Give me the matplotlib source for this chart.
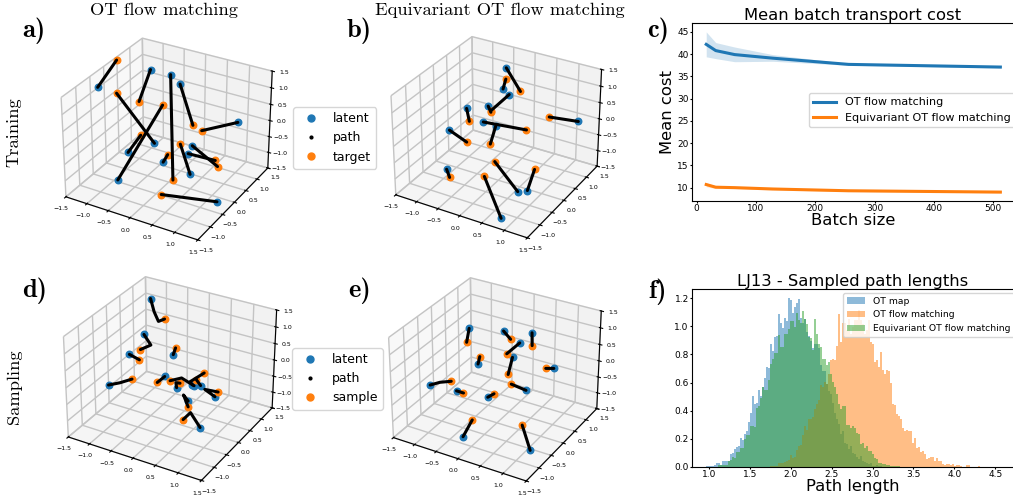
import numpy as np
import matplotlib
matplotlib.use('Agg')
import matplotlib.pyplot as plt
from matplotlib.lines import Line2D

W, H = 1013, 499

# ---- 3D panels: every list is one point per path, (x, y, z)
a_latent = [(-1.27, -0.58, 1.31), (-0.99, 0.97, 1.01), (-0.55, 1.03, 0.97), (-0.22, 0.84, 0.91), (1.03, 0.99, 0.1),
            (-0.2, -0.22, -0.21), (-0.61, -0.56, -0.42), (-0.59, -0.99, -0.96), (0.15, -0.48, -0.47),
            (0.72, -0.41, -0.66), (0.43, 0.03, -0.45), (0.41, 0.23, -0.35), (1.31, -0.38, -1.28)]
a_target = [(-1.45, 0.41, 1.47), (-0.73, 0.08, 0.67), (0.51, -0.72, -0.7), (0.37, 0.32, 0.2), (0.5, 0.45, 0.0),
            (-1.04, -0.26, 1.02), (-0.42, -0.38, 0.06), (-0.42, 0.48, 0.42), (0.19, -0.37, -0.3),
            (0.25, 0.03, -0.23), (0.83, 0.43, -0.78), (0.9, 0.4, -0.92), (0.38, -0.95, -1.03)]

b_latent = [(-0.47, 1.14, 1.09), (-0.3, 0.71, 0.76), (-0.11, 0.63, 0.71), (-0.42, 0.32, 0.44), (-0.61, -0.2, 0.63),
            (-0.31, -0.06, 0.24), (-0.13, 0.12, 0.06), (-0.68, -0.74, 0.3), (1.18, 1.19, 0.0),
            (-0.71, -0.83, -0.85), (0.88, -0.77, -0.92), (0.99, -0.58, -0.98), (0.83, -1.33, -1.34)]
b_target = [(0.07, 0.77, 0.78), (-0.36, 0.93, 0.91), (-0.35, 0.3, 0.33), (-0.34, 0.29, 0.3), (-0.44, -0.38, 0.42),
            (0.42, 0.4, -0.03), (-0.08, -0.18, -0.27), (-0.44, -0.49, -0.14), (0.75, 0.74, 0.27),
            (-0.56, -0.96, -0.95), (0.19, -0.47, -0.5), (0.81, 0.04, -0.85), (0.14, -0.79, -0.75)]

# sampled paths bend, so they keep their points from latent to sample
d_paths = [[(-1.16, 1.13, 1.16), (-0.97, 0.95, 0.93), (-0.78, 0.8, 0.79), (-0.69, 0.89, 0.84)],
           [(-0.79, 0.25, 0.73), (-0.56, 0.13, 0.57), (-0.6, -0.2, 0.63)],
           [(-0.65, -0.53, 0.68), (-0.51, -0.39, 0.48)],
           [(-0.91, -0.9, -0.09), (-0.73, -0.77, -0.04), (-0.6, -0.53, -0.04)],
           [(-0.13, 0.27, 0.35), (-0.18, 0.45, 0.42)],
           [(-0.11, -0.1, -0.06), (-0.21, -0.22, -0.2)],
           [(0.38, 0.21, -0.36), (0.13, 0.15, -0.18), (0.0, -0.08, -0.16)],
           [(0.2, -0.17, -0.23), (0.16, -0.13, -0.12), (0.18, 0.0, -0.22)],
           [(0.35, 0.2, -0.34), (0.29, 0.2, -0.27), (0.49, 0.42, -0.07)],
           [(0.44, 0.37, -0.44), (0.34, 0.38, -0.31)],
           [(0.74, 0.42, -0.7), (0.53, 0.38, -0.53), (0.72, 0.59, -0.68)],
           [(0.51, -0.26, -0.45), (0.35, -0.16, -0.4), (0.54, -0.31, -0.58)],
           [(0.94, -0.55, -0.87), (0.66, -0.43, -0.62), (0.62, -0.65, -0.69)]]
e_paths = [[(-0.88, 0.41, 0.81), (-0.68, -0.02, 0.73)],
           [(-0.27, 0.73, 0.75), (-0.05, 0.63, 0.64)],
           [(0.34, 0.8, 0.87), (0.46, 0.59, 0.66)],
           [(0.18, 0.59, 0.64), (0.01, 0.37, 0.39)],
           [(-0.32, -0.19, 0.32), (-0.38, -0.02, 0.41)],
           [(0.18, 0.3, 0.39), (0.19, 0.11, 0.0)],
           [(0.84, 0.81, -0.03), (0.7, 0.73, -0.03)],
           [(-0.97, -0.93, -0.07), (-0.82, -0.81, -0.01), (-0.69, -0.6, -0.07)],
           [(-0.61, -0.54, -0.37), (-0.48, -0.49, -0.42)],
           [(0.01, -0.38, -0.43), (0.1, -0.29, -0.35)],
           [(0.52, 0.25, -0.45), (0.29, 0.06, -0.22)],
           [(-0.11, -1.13, -1.15), (-0.09, -0.81, -0.86)],
           [(1.23, -0.86, -1.19), (0.88, -0.55, -0.8)]]

# ---- panel c
batch_sizes = [16, 32, 64, 128, 256, 512]
ot_cost = [42.2, 40.8, 39.9, 39.1, 37.7, 37.1]
ot_cost_low = [39.4, 39.0, 38.3, 38.4, 37.5, 36.9]
ot_cost_high = [45.0, 42.6, 41.6, 39.9, 37.9, 37.3]
eq_cost = [10.7, 10.1, 10.0, 9.7, 9.3, 9.0]
eq_cost_low = [10.2, 9.8, 9.8, 9.5, 9.15, 8.85]
eq_cost_high = [11.1, 10.4, 10.2, 9.9, 9.45, 9.15]

# ---- panel f: bar heights, one per bin
bin_width = 0.0245
map_start = 0.963
map_heights = [.007, .007, .007, .005, .012, .028, .028, .014, .043, .043, .043, .043, .095, .10, .13, .142, .147,
               .204, .19, .232, .256, .32, .384, .502, .45, .455, .55, .502, .569, .63, .711, .704, .877, .825,
               .924, .931, 1.085, 1.024, .986, 1.062, 1.038, 1.199, 1.187, 1.097, 1.137, 1.163, 1.192, 1.057,
               1.026, 1.05, .96, .931, .896, .844, .872, .872, .844, .725, .682, .682, .588, .54, .517, .457,
               .386, .339, .303, .232, .256, .173, .161, .13, .15, .10, .09, .07, .06, .075, .04, .035, .03, .02,
               .025, .01, .01, .012, .005, .005]
flow_start = 1.747
flow_heights = [.007, .007, .01, .01, .028, .028, .028, .036, .043, .047, .083, .066, .071, .118, .147, .154, .225,
                .289, .261, .344, .339, .355, .415, .45, .474, .585, .569, .604, .592, .664, .763, .77, .758, .86,
                1.085, .889, 1.024, 1.026, .972, 1.055, .948, .995, 1.043, 1.043, 1.114, 1.043, 1.019, .948, .972,
                1.043, .889, .877, .746, .758, .711, .818, .687, .664, .69, .68, .6, .45, .44, .38, .363, .339,
                .28, .256, .263, .256, .256, .173, .209, .137, .142, .107, .114, .09, .055, .066, .073, .071, .043,
                .066, .043, .043, .019, .017, .021, .024, .014, .021, .009, .014, .014, .007, .002, 0, .014, .014,
                0, 0, 0, 0, .007]
equi_start = 1.11
equi_heights = [.012, .012, .014, .014, .014, .043, .05, .071, .064, .104, .104, .135, .135, .201, .227, .227, .289,
                .289, .284, .422, .431, .493, .569, .55, .55, .616, .73, .77, .81, .81, .936, .853, .853, .943, .943,
                .983, 1.036, 1.036, .995, 1.095, 1.043, 1.024, 1.109, 1.055, 1.019, .924, .919, .834, 1.055, .943,
                .872, .853, .765, .765, .723, .746, .664, .604, .569, .521, .45, .415, .431, .431, .301, .296, .28,
                .29, .28, .244, .232, .161, .173, .137, .149, .114, .114, .09, .066, .055, .031, .031, .024, .019,
                .014, .012, .01, .009, .007, .005, .005, .002]

BLUE, ORANGE, GREEN = 'tab:blue', 'tab:orange', 'tab:green'

# only the 3D panels draw a grid
plt.rcParams['grid.color'] = '#c4c4c4'
plt.rcParams['grid.linewidth'] = 1.0

fig = plt.figure(figsize=(W / 100, H / 100), dpi=100)


def axes_px(left, top, width, height, **kwargs):
    return fig.add_axes([left / W, 1 - (top + height) / H, width / W, height / H], **kwargs)


def box3d(left, top, size):
    ax = axes_px(left, top, size, size, projection='3d')
    ax.computed_zorder = False
    ax.set_xlim(-1.5, 1.5)
    ax.set_ylim(-1.5, 1.5)
    ax.set_zlim(-1.5, 1.5)
    ax.tick_params(labelsize=4.5, pad=-3)
    ax.patch.set_alpha(0)
    return ax


def draw_paths(ax, paths):
    for path in paths:
        xs, ys, zs = zip(*path)
        ax.plot(xs, ys, zs, color='k', lw=2.2, solid_capstyle='round', zorder=3)
    first = np.array([p[0] for p in paths])
    last = np.array([p[-1] for p in paths])
    ax.scatter(*first.T, s=22, color=BLUE, depthshade=False, zorder=2)
    ax.scatter(*last.T, s=22, color=ORANGE, depthshade=False, zorder=2)


ax_a = box3d(48.2, 20.0, 234.7)
draw_paths(ax_a, [[p, q] for p, q in zip(a_latent, a_target)])
ax_b = box3d(378.1, 18.5, 234.1)
draw_paths(ax_b, [[p, q] for p, q in zip(b_latent, b_target)])
ax_d = box3d(50.4, 258.4, 237.0)
draw_paths(ax_d, d_paths)
ax_e = box3d(375.6, 259.5, 236.4)
draw_paths(ax_e, e_paths)


def dots_legend(last_label, left, top, fontsize):
    handles = [Line2D([], [], ls='', marker='o', ms=5, color=BLUE),
               Line2D([], [], ls='', marker='o', ms=2, color='k'),
               Line2D([], [], ls='', marker='o', ms=5, color=ORANGE)]
    fig.legend(handles, ['latent', 'path', last_label], loc='upper left', fontsize=fontsize,
               bbox_to_anchor=(left / W, 1 - top / H), borderaxespad=0)


dots_legend('target', 293, 107, 9)
dots_legend('sample', 292, 348, 9)

# ---- c) transport cost
ax_c = axes_px(692, 23, 322, 178)
ax_c.plot(batch_sizes, ot_cost, color=BLUE, lw=2.2, label='OT flow matching')
ax_c.fill_between(batch_sizes, ot_cost_low, ot_cost_high, color=BLUE, alpha=0.2, lw=0)
ax_c.plot(batch_sizes, eq_cost, color=ORANGE, lw=2.2, label='Equivariant OT flow matching')
ax_c.fill_between(batch_sizes, eq_cost_low, eq_cost_high, color=ORANGE, alpha=0.2, lw=0)
ax_c.set_xlim(-8, 535)
ax_c.set_ylim(7, 47)
ax_c.set_xticks([0, 100, 200, 300, 400, 500])
ax_c.set_yticks([10, 15, 20, 25, 30, 35, 40, 45])
ax_c.tick_params(labelsize=6.5, length=1.5, pad=0.8)
ax_c.set_title('Mean batch transport cost', fontsize=11.8, pad=2)
ax_c.set_xlabel('Batch size', fontsize=11.8, labelpad=0)
ax_c.set_ylabel('Mean cost', fontsize=11.8, labelpad=2)
ax_c.legend(loc='upper left', bbox_to_anchor=((809 - 692) / 322, 1 - (93 - 23) / 178), borderaxespad=0,
            fontsize=8)

# ---- f) path lengths
ax_f = axes_px(692, 289, 322, 178)
for start, heights, color, label in [(map_start, map_heights, BLUE, 'OT map'),
                                     (flow_start, flow_heights, ORANGE, 'OT flow matching'),
                                     (equi_start, equi_heights, GREEN, 'Equivariant OT flow matching')]:
    edges = start + bin_width * np.arange(len(heights))
    ax_f.bar(edges, heights, width=bin_width, align='edge', color=color, alpha=0.5, label=label)
ax_f.set_xlim(0.79, 4.73)
ax_f.set_ylim(0, 1.265)
ax_f.set_xticks([1.0, 1.5, 2.0, 2.5, 3.0, 3.5, 4.0, 4.5])
ax_f.set_yticks([0.0, 0.2, 0.4, 0.6, 0.8, 1.0, 1.2])
ax_f.tick_params(labelsize=6.5, length=1.5, pad=0.8)
ax_f.set_title('LJ13 - Sampled path lengths', fontsize=11.8, pad=2)
ax_f.set_xlabel('Path length', fontsize=11.8, labelpad=0)
ax_f.legend(loc='upper left', bbox_to_anchor=((843 - 692) / 322, 1 - (293 - 289) / 178), borderaxespad=0,
            fontsize=6.7)


# ---- serif labels around the panels
def label_px(x, y, text, family='cmr10', size=13.3, **kwargs):
    fig.text(x / W, 1 - y / H, text, family=family, fontsize=size, ha='center', va='center', **kwargs)


label_px(164, 10, 'OT flow matching')
label_px(500, 10, 'Equivariant OT flow matching')
label_px(14, 132, 'Training', rotation=90)
label_px(14, 387, 'Sampling', rotation=90)
for x, y, letter in [(34, 31, 'a)'), (359, 31, 'b)'), (658, 31, 'c)'),
                     (35, 291, 'd)'), (360, 291, 'e)'), (658, 292, 'f)')]:
    label_px(x, y, letter, family='cmb10', size=19)

fig.savefig('out.png', dpi=100)
